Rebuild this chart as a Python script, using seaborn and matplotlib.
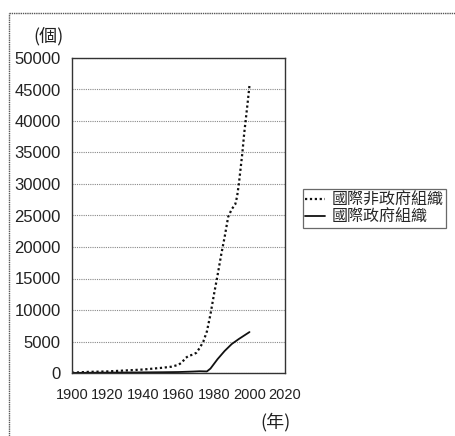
import pandas as pd
import matplotlib
matplotlib.use("Agg")
import matplotlib.pyplot as plt
from matplotlib.lines import Line2D
import seaborn as sns

# data
ngo_years = [1900, 1909, 1920, 1930, 1940, 1951, 1956, 1960, 1962, 1964, 1966, 1968,
             1970, 1972, 1974, 1976, 1978, 1980, 1982, 1984, 1986, 1988, 1990, 1992,
             1993, 1994, 1995, 1996, 1997, 1998, 1999, 2000]
ngo_counts = [50, 176, 250, 400, 550, 832, 1000, 1300, 1700, 2400, 2750, 2900,
              3200, 4000, 5000, 6600, 9300, 12500, 15500, 18700, 21600, 24800, 26000, 26800,
              28000, 30000, 32500, 35000, 38000, 40500, 43000, 45674]

igo_years = [1900, 1909, 1951, 1960, 1968, 1972, 1976, 1978, 1982, 1986, 1990, 1994, 2000]
igo_counts = [0, 37, 123, 154, 229, 280, 250, 700, 2200, 3500, 4600, 5400, 6500]

ngo_label = "國際非政府組織"
igo_label = "國際政府組織"
x_ticks = list(range(1900, 2021, 20))
y_ticks = list(range(0, 50001, 5000))

ngo = pd.DataFrame({"year": ngo_years, "count": ngo_counts})
igo = pd.DataFrame({"year": igo_years, "count": igo_counts})

sns.set_style("white")
plt.rcParams["font.family"] = ["Liberation Sans", "Noto Sans CJK TC", "DejaVu Sans"]

fig = plt.figure(figsize=(4.56, 4.36), dpi=100)
ax = fig.add_axes([72 / 456, 63 / 436, 213 / 456, 315 / 436])

sns.lineplot(data=ngo, x="year", y="count", ax=ax, color="#111111",
             linewidth=1.6, linestyle=(0, (1, 1.2)), label=ngo_label)
sns.lineplot(data=igo, x="year", y="count", ax=ax, color="#111111",
             linewidth=1.3, label=igo_label)

ax.set_xlim(1900, 2020)
ax.set_ylim(0, 50000)
ax.set_xticks(x_ticks)
ax.set_yticks(y_ticks)
ax.set_xticklabels([str(t) for t in x_ticks], fontsize=10.5)
ax.set_yticklabels([str(t) for t in y_ticks], fontsize=12)
ax.tick_params(axis="y", length=0, pad=8, colors="#222222")
ax.tick_params(axis="x", length=0, pad=11, colors="#222222")
ax.set_xlabel("")
ax.set_ylabel("")

ax.yaxis.grid(True, color="#888888", linestyle=(0, (1, 1)), linewidth=0.8)
ax.xaxis.grid(False)
for sp in ax.spines.values():
    sp.set_color("#333333")
    sp.set_linewidth(1.0)

fig.text(49 / 456, 1 - 36 / 436, "(個)", fontsize=13, ha="center", va="center",
         family=["Noto Sans CJK TC", "DejaVu Sans"], color="#222222")
fig.text(275 / 456, 1 - 422 / 436, "(年)", fontsize=13, ha="center", va="center",
         family=["Noto Sans CJK TC", "DejaVu Sans"], color="#222222")

leg = ax.legend(loc="upper left", bbox_to_anchor=(303 / 456, 1 - 189 / 436),
                bbox_transform=fig.transFigure, frameon=True, fancybox=False,
                prop={"family": ["Noto Sans CJK TC", "DejaVu Sans"], "size": 11.5},
                handlelength=1.25, handletextpad=0.4, borderpad=0.15,
                labelspacing=0.0, borderaxespad=0)
leg.get_frame().set_edgecolor("#444444")
leg.get_frame().set_linewidth(0.9)

# outer frame of the scanned figure
fig.add_artist(Line2D([9 / 456, 9 / 456], [0, 1 - 13 / 436], transform=fig.transFigure,
                      color="#555555", linewidth=1.0, linestyle=(0, (1, 0.6))))
fig.add_artist(Line2D([9 / 456, 1], [1 - 13 / 436, 1 - 13 / 436], transform=fig.transFigure,
                      color="#555555", linewidth=1.0, linestyle=(0, (1, 0.6))))

fig.savefig("out.png", dpi=100)
